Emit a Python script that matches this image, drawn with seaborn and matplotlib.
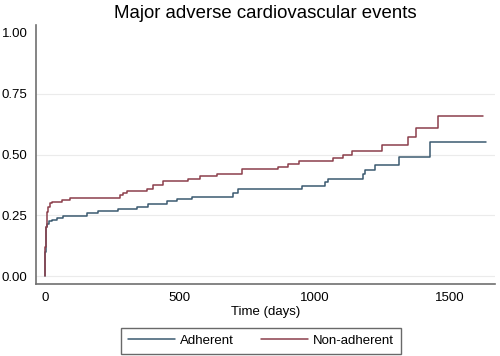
import numpy as np
import pandas as pd
import matplotlib
matplotlib.use("Agg")
import matplotlib.pyplot as plt
import seaborn as sns

# cumulative incidence (time in days)
adh_days = [0, 1, 3, 5, 8, 14, 26, 44, 67, 155, 196, 270, 340, 381, 452, 489,
            544, 696, 715, 952, 1037, 1048, 1178, 1185, 1222, 1311, 1426, 1633]
adh_vals = [0, 0.10, 0.17, 0.20, 0.215, 0.225, 0.23, 0.24, 0.247, 0.26, 0.267,
            0.275, 0.285, 0.295, 0.31, 0.317, 0.325, 0.34, 0.357, 0.37, 0.387,
            0.40, 0.42, 0.435, 0.455, 0.49, 0.553, 0.553]

non_days = [0, 1, 3, 6, 9, 13, 18, 25, 62, 92, 278, 290, 303, 377, 400, 437,
            530, 574, 637, 730, 863, 900, 941, 1067, 1104, 1137, 1248, 1344,
            1374, 1456, 1622]
non_vals = [0, 0.12, 0.20, 0.24, 0.265, 0.285, 0.30, 0.305, 0.313, 0.32, 0.335,
            0.342, 0.35, 0.36, 0.375, 0.39, 0.40, 0.41, 0.42, 0.44, 0.45, 0.46,
            0.475, 0.485, 0.50, 0.515, 0.54, 0.57, 0.61, 0.66, 0.66]

groups = ["Adherent", "Non-adherent"]
colors = ["#3b5a70", "#8c3f4b"]
xticks = [0, 500, 1000, 1500]
yticks = [0, 0.25, 0.5, 0.75, 1.0]

df = pd.concat([
    pd.DataFrame({"time": adh_days, "cif": adh_vals, "group": groups[0]}),
    pd.DataFrame({"time": non_days, "cif": non_vals, "group": groups[1]}),
])

sns.set_style("white")
plt.rcParams["font.family"] = ["Liberation Sans", "DejaVu Sans"]
plt.rcParams["text.color"] = "black"
plt.rcParams["axes.labelcolor"] = "black"
plt.rcParams["xtick.color"] = "black"
plt.rcParams["ytick.color"] = "black"

fig = plt.figure(figsize=(5, 3.56), dpi=100)
ax = fig.add_axes([0.072, 0.202, 0.918, 0.728])

# stata style grid: interior lines only, nothing at the top
for t in yticks[:-1]:
    ax.axhline(t, color="#ebebeb", linewidth=0.8, zorder=0)

sns.lineplot(data=df, x="time", y="cif", hue="group", palette=colors,
             estimator=None, drawstyle="steps-post", linewidth=1.1, ax=ax,
             legend=False)

ax.set_xlim(-33, 1667)
ax.set_ylim(-0.033, 1.033)
ax.set_xticks(xticks)
ax.set_yticks(yticks)
ax.set_yticklabels(["%.2f" % t for t in yticks])
for s in ["top", "right"]:
    ax.spines[s].set_visible(False)
for s in ["left", "bottom"]:
    ax.spines[s].set_color("#707070")
    ax.spines[s].set_linewidth(1.2)
ax.tick_params(axis="both", length=4, width=1, color="#707070",
               labelsize=9.5, pad=2, direction="out")
ax.set_xlabel("Time (days)", fontsize=9.5, labelpad=1)
ax.set_ylabel("")
ax.set_title("Major adverse cardiovascular events", fontsize=13.4, pad=5)

handles = [plt.Line2D([], [], color=c, lw=1.1) for c in colors]
leg = ax.legend(handles, groups, loc="upper center", bbox_to_anchor=(0.49, -0.145),
                ncol=2, fontsize=9.5, frameon=True, fancybox=False,
                handlelength=3.6, handletextpad=0.4, columnspacing=2.0,
                borderpad=0.5)
leg.get_frame().set_edgecolor("#444444")
leg.get_frame().set_linewidth(1.0)

fig.savefig("out.png", dpi=100)
